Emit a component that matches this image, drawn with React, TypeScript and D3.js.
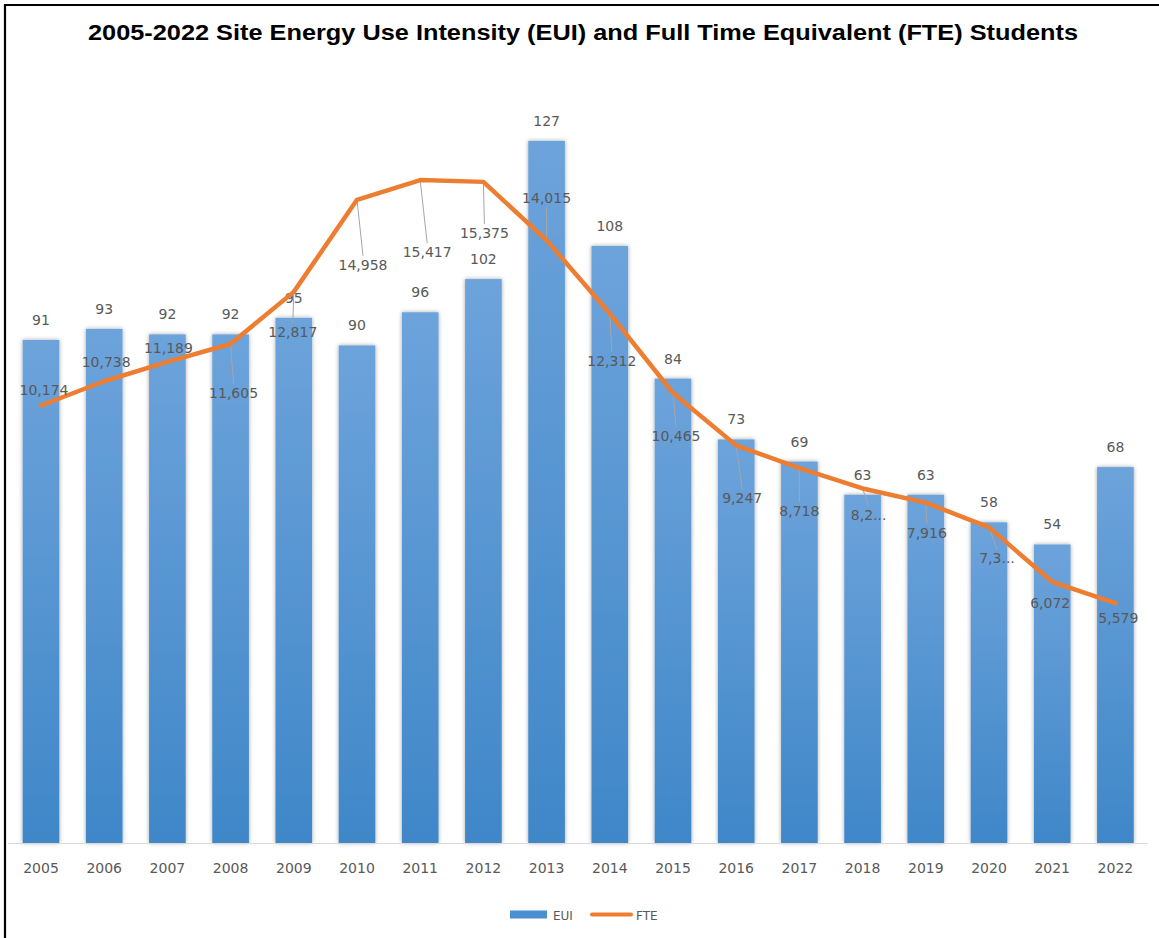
import {useEffect, useRef} from "react";
import * as d3 from "d3";

const years = ["2005", "2006", "2007", "2008", "2009", "2010", "2011", "2012", "2013",
    "2014", "2015", "2016", "2017", "2018", "2019", "2020", "2021", "2022"];
const eui = [91, 93, 92, 92, 95, 90, 96, 102, 127, 108, 84, 73, 69, 63, 63, 58, 54, 68];
const fte = [10174, 10738, 11189, 11605, 12817, 14958, 15417, 15375, 14015, 12312, 10465,
    9247, 8718, 8245, 7916, 7340, 6072, 5579];
// labels as shown (two are clipped in the original)
const fteLabels = ["10,174", "10,738", "11,189", "11,605", "12,817", "14,958", "15,417", "15,375",
    "14,015", "12,312", "10,465", "9,247", "8,718", "8,2...", "7,916", "7,3...", "6,072", "5,579"];
// where each FTE label sits, relative to its point
const fteLabelShift = [[3, -16], [2, -19], [1, -14], [3, 49], [-1, 40], [6, 65], [7, 72], [1, 51],
    [0, -42], [2, 47], [3, 43], [6, 53], [0, 43], [6, 27], [1, 30], [8, 31], [-2, 21], [3, 15]];

const W = 1159, H = 938;

const App = () => {
    const svgRef = useRef<SVGSVGElement>(null);

    useEffect(() => {
        const svg = d3.select(svgRef.current);
        svg.selectAll("*").remove();

        const base = 843, top = 69;
        const x = d3.scaleBand().domain(years).range([9.4, 1147]).paddingInner(0.42).paddingOuter(0.21);
        const y = d3.scaleLinear().domain([0, 140]).range([base, top]);
        const y2 = d3.scaleLinear().domain([0, 18000]).range([base, top]);
        const cx = (i: number) => (x(years[i]) as number) + x.bandwidth() / 2;
        const font = "'DejaVu Sans', sans-serif";
        const grey = "#595959";

        const defs = svg.append("defs");
        const grad = defs.append("linearGradient").attr("id", "barGrad")
            .attr("x1", 0).attr("y1", 0).attr("x2", 0).attr("y2", 1);
        grad.append("stop").attr("offset", "0%").attr("stop-color", "#6da3db");
        grad.append("stop").attr("offset", "100%").attr("stop-color", "#3f87c8");
        const shadow = defs.append("filter").attr("id", "shadow")
            .attr("x", "-30%").attr("y", "-5%").attr("width", "160%").attr("height", "110%");
        shadow.append("feDropShadow").attr("dx", 0).attr("dy", 0).attr("stdDeviation", 2.2)
            .attr("flood-color", "#000").attr("flood-opacity", 0.35);

        svg.append("rect").attr("width", W).attr("height", H).attr("fill", "#fff");

        // frame (left and top only visible)
        svg.append("path").attr("d", `M5,${H} V5 H${W}`)
            .attr("fill", "none").attr("stroke", "#000").attr("stroke-width", 2.2);

        svg.append("text")
            .attr("x", 583).attr("y", 40)
            .attr("text-anchor", "middle")
            .attr("font-family", "'Liberation Sans', Arial, sans-serif")
            .attr("font-weight", "bold").attr("font-size", 22)
            .attr("textLength", 990).attr("lengthAdjust", "spacingAndGlyphs")
            .text("2005-2022 Site Energy Use Intensity (EUI) and Full Time Equivalent (FTE) Students");

        // bars
        svg.append("g").selectAll("rect")
            .data(eui)
            .enter()
            .append("rect")
            .attr("x", (d, i) => x(years[i]) as number)
            .attr("y", d => y(d))
            .attr("width", x.bandwidth())
            .attr("height", d => base - y(d))
            .attr("fill", "url(#barGrad)")
            .attr("filter", "url(#shadow)");

        // category axis
        svg.append("line").attr("x1", 8).attr("x2", 1148).attr("y1", base + 0.5).attr("y2", base + 0.5)
            .attr("stroke", "#d9d9d9").attr("stroke-width", 1.2);
        svg.append("g").selectAll("text")
            .data(years)
            .enter()
            .append("text")
            .attr("x", (d, i) => cx(i))
            .attr("y", 873)
            .attr("text-anchor", "middle")
            .attr("font-family", font).attr("font-size", 14)
            .attr("fill", grey)
            .text(d => d);

        // EUI labels
        svg.append("g").selectAll("text")
            .data(eui)
            .enter()
            .append("text")
            .attr("x", (d, i) => cx(i))
            .attr("y", d => y(d) - 15)
            .attr("text-anchor", "middle")
            .attr("font-family", font).attr("font-size", 14)
            .attr("fill", grey)
            .text(d => d);

        // FTE leader lines
        const leaders = svg.append("g");
        fte.forEach((v, i) => {
            const [dx, dy] = fteLabelShift[i];
            if (Math.abs(dy) < 25) return;
            const px = cx(i), py = y2(v);
            const ey = dy > 0 ? py + dy - 9 : py + dy + 9;
            leaders.append("line")
                .attr("x1", px).attr("y1", py)
                .attr("x2", px + dx).attr("y2", ey)
                .attr("stroke", "#a6a6a6").attr("stroke-width", 1);
        });

        // FTE line
        const line = d3.line<number>()
            .x((d, i) => cx(i))
            .y(d => y2(d));
        svg.append("path")
            .datum(fte)
            .attr("d", line)
            .attr("fill", "none")
            .attr("stroke", "#ed7d31")
            .attr("stroke-width", 4.5)
            .attr("stroke-linejoin", "round")
            .attr("stroke-linecap", "round");

        // FTE labels
        svg.append("g").selectAll("text")
            .data(fte)
            .enter()
            .append("text")
            .attr("x", (d, i) => cx(i) + fteLabelShift[i][0])
            .attr("y", (d, i) => y2(d) + fteLabelShift[i][1] + 5)
            .attr("text-anchor", "middle")
            .attr("font-family", font).attr("font-size", 14)
            .attr("fill", grey)
            .text((d, i) => fteLabels[i]);

        // legend
        const lg = svg.append("g");
        lg.append("rect").attr("x", 510).attr("y", 910.5).attr("width", 37).attr("height", 8)
            .attr("fill", "#4a8fcf");
        lg.append("text").attr("x", 553).attr("y", 920)
            .attr("font-family", font).attr("font-size", 12).attr("fill", grey).text("EUI");
        lg.append("line").attr("x1", 592).attr("x2", 631).attr("y1", 914.5).attr("y2", 914.5)
            .attr("stroke", "#ed7d31").attr("stroke-width", 4).attr("stroke-linecap", "round");
        lg.append("text").attr("x", 636).attr("y", 920)
            .attr("font-family", font).attr("font-size", 12).attr("fill", grey).text("FTE");
    }, []);

    return (
        <svg ref={svgRef} width={W} height={H}
             style={{position: "absolute", left: 0, top: 0, display: "block"}}></svg>
    );
};

export default App;
